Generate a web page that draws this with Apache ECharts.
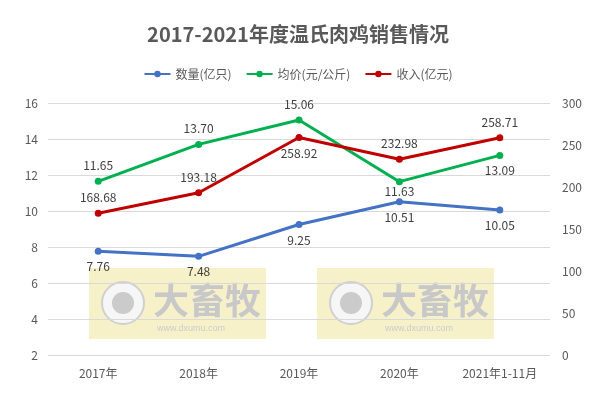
<!DOCTYPE html>
<html><head><meta charset="utf-8">
<script src="https://cdn.jsdelivr.net/npm/echarts@6/dist/echarts.min.js"></script>
<style>html,body{margin:0;padding:0;background:#fff}#c{width:596px;height:401px}</style>
</head><body><div id="c"></div>
<script>
var categories = ['2017年','2018年','2019年','2020年','2021年1-11月'];
var quantity = [7.76, 7.48, 9.25, 10.51, 10.05];
var price = [11.65, 13.70, 15.06, 11.63, 13.09];
var revenue = [168.68, 193.18, 258.92, 232.98, 258.71];
var priceLabelPos = ['top','top','top','bottom','bottom'];
var revenueLabelPos = ['top','top','bottom','top','top'];

var font = 'Microsoft YaHei, "Noto Sans CJK SC", sans-serif';
function mk(vals, pos, special){
  return vals.map(function(v,i){
    var lab = {position:pos[i]};
    if (special && special[i] !== undefined) lab.distance = special[i];
    return {value:v, label:lab};
  });
}
function watermark(x){
  return {type:'group', left:x, top:268, z:-1, children:[
    {type:'rect', shape:{x:0,y:0,width:177,height:71}, style:{fill:'rgba(240,228,150,0.5)'}},
    {type:'circle', shape:{cx:34,cy:35,r:21}, style:{fill:'#f6f6f6',stroke:'#d0d0d0',lineWidth:2}},
    {type:'circle', shape:{cx:34,cy:35,r:11}, style:{fill:'#cbcbcb'}},
    {type:'text', style:{x:64,y:14,text:'大畜牧',fill:'#c8c8c8',font:'bold 36px '+font}},
    {type:'text', style:{x:68,y:56,text:'www.dxumu.com',fill:'#cccccc',font:'9px sans-serif'}}
  ]};
}
var chart = echarts.init(document.getElementById('c'));
chart.setOption({
  animation:false,
  title:{text:'2017-2021年度温氏肉鸡销售情况', left:'center', top:19,
    textStyle:{fontSize:20, fontWeight:'bold', color:'#595959', fontFamily:font}},
  legend:{top:63, itemWidth:26, itemHeight:8, itemGap:14,
    textStyle:{fontSize:12, color:'#595959', fontFamily:font},
    data:['数量(亿只)','均价(元/公斤)','收入(亿元)']},
  grid:{left:48, right:46, top:103, bottom:46},
  graphic:[watermark(89), watermark(317)],
  xAxis:{type:'category', data:categories, boundaryGap:true,
    axisLine:{show:false}, axisTick:{show:false},
    axisLabel:{color:'#595959', fontSize:12, fontFamily:font, margin:12}},
  yAxis:[
    {type:'value', min:2, max:16, interval:2, position:'left',
     axisLine:{show:false}, axisTick:{show:false},
     axisLabel:{color:'#595959', fontSize:12, fontFamily:font, margin:10},
     splitLine:{lineStyle:{color:'#d9d9d9'}}},
    {type:'value', min:0, max:300, interval:50, position:'right',
     axisLine:{show:false}, axisTick:{show:false},
     axisLabel:{color:'#595959', fontSize:12, fontFamily:font, margin:12},
     splitLine:{show:false}}
  ],
  series:[
    {name:'数量(亿只)', type:'line', yAxisIndex:0, data:quantity,
     symbol:'circle', symbolSize:7, itemStyle:{color:'#4472C4'}, lineStyle:{width:3, color:'#4472C4'},
     label:{show:true, position:'bottom', distance:6, color:'#404040', fontSize:12, fontFamily:font}},
    {name:'均价(元/公斤)', type:'line', yAxisIndex:0, data:mk(price, priceLabelPos, [undefined,undefined,undefined,0,undefined]),
     symbol:'circle', symbolSize:7, itemStyle:{color:'#00B050'}, lineStyle:{width:3, color:'#00B050'},
     label:{show:true, distance:6, color:'#404040', fontSize:12, fontFamily:font,
       formatter:function(p){return p.value.toFixed(2);}}},
    {name:'收入(亿元)', type:'line', yAxisIndex:1, data:mk(revenue, revenueLabelPos),
     symbol:'circle', symbolSize:7, itemStyle:{color:'#C00000'}, lineStyle:{width:3, color:'#C00000'},
     label:{show:true, distance:6, color:'#404040', fontSize:12, fontFamily:font}}
  ]
});
</script></body></html>
